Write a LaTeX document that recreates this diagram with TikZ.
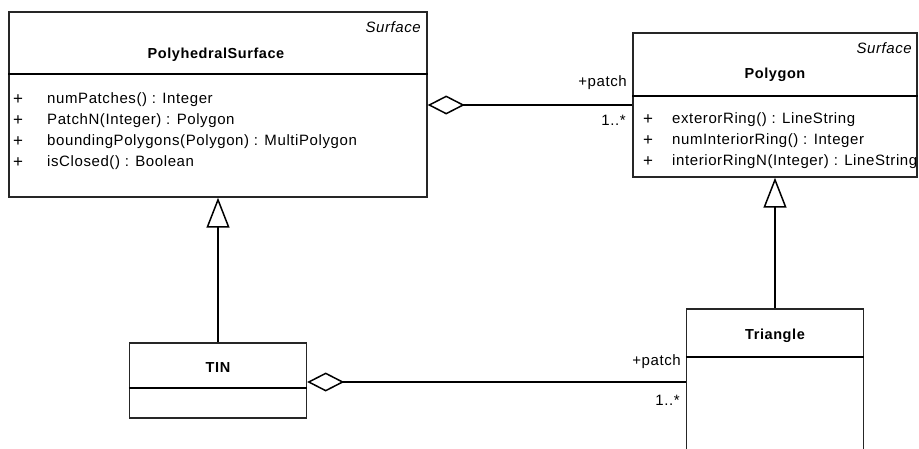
\documentclass[tikz,border=0pt]{standalone}
\usepackage{fontspec}
\setmainfont{Liberation Sans}[LetterSpace=4]
\usetikzlibrary{arrows.meta}
\begin{document}
\begin{tikzpicture}[x=1pt,y=-1pt,
  cls/.style={draw=black!85, line width=1.4pt, rectangle, inner sep=0pt, minimum width=#1},
  sepline/.style={line width=1.6pt},
  conn/.style={line width=1.7pt},
  aggr/.style={conn, -{Diamond[open, length=37pt, width=19pt, line width=1.5pt]}},
  gen/.style={conn, -{Triangle[open, length=30pt, width=23pt, line width=1.5pt]}},
  txt/.style={inner sep=0pt, font=\fontsize{15}{18}\selectfont},
  ttl/.style={txt, font=\fontsize{14.5}{18}\selectfont\bfseries},
  stereo/.style={txt, anchor=east, font=\fontsize{15}{18}\selectfont\itshape},
  op/.style={txt, anchor=west},
  plus/.style={txt, font=\fontsize{17}{18}\selectfont}
]
\useasboundingbox (0,0) rectangle (919,448);

% class boxes
\node[cls=418pt, minimum height=185pt] (ps) at (218,104.5) {};
\node[cls=284pt, minimum height=144pt] (poly) at (775,105) {};
\node[cls=177pt, minimum height=75pt] (tin) at (218,380.5) {};
\node[cls=177pt, minimum height=161pt] (tri) at (775,389.5) {};

% separators
\draw[sepline] (ps.west |- 0,74) -- (ps.east |- 0,74);
\draw[sepline] (poly.west |- 0,96) -- (poly.east |- 0,96);
\draw[sepline] (tin.west |- 0,388) -- (tin.east |- 0,388);
\draw[sepline] (tri.west |- 0,357) -- (tri.east |- 0,357);

% PolyhedralSurface
\node[stereo] (psst) at (421,27) {Surface};
\node[ttl] (psname) at (216,55) {PolyhedralSurface};
\node[plus] (psp1) at (18,100) {+};
\node[plus] (psp2) at (18,121) {+};
\node[plus] (psp3) at (18,142) {+};
\node[plus] (psp4) at (18,163) {+};
\node[op] (pso1) at (47,100) {numPatches() : Integer};
\node[op] (pso2) at (47,121) {PatchN(Integer) : Polygon};
\node[op] (pso3) at (47,142) {boundingPolygons(Polygon) : MultiPolygon};
\node[op] (pso4) at (47,163) {isClosed() : Boolean};

% Polygon
\node[stereo] (polyst) at (912,48) {Surface};
\node[ttl] (polyname) at (775,75) {Polygon};
\node[plus] (polyp1) at (648,120) {+};
\node[plus] (polyp2) at (648,141) {+};
\node[plus] (polyp3) at (648,162) {+};
\node[op] (polyo1) at (672,120) {exterorRing() : LineString};
\node[op] (polyo2) at (672,141) {numInteriorRing() : Integer};
\node[op] (polyo3) at (672,162) {interiorRingN(Integer) : LineString};

% TIN and Triangle
\node[ttl] (tinname) at (218,368) {TIN};
\node[ttl] (triname) at (775,336) {Triangle};

% connectors
\coordinate (ya) at (0,105);
\coordinate (yb) at (0,382);
\draw[aggr] (poly.west |- ya) -- (ps.east |- ya);
\draw[aggr] (tri.west |- yb) -- (tin.east |- yb);
\draw[gen] (tin.north) -- (ps.south);
\draw[gen] (tri.north) -- (poly.south);

% role labels
\node[txt, anchor=east] (r1) at (627,83) {+patch};
\node[txt, anchor=east] (m1) at (626,120) {1..*};
\node[txt, anchor=east] (r2) at (681,362) {+patch};
\node[txt, anchor=east] (m2) at (680,400) {1..*};
\end{tikzpicture}
\end{document}
